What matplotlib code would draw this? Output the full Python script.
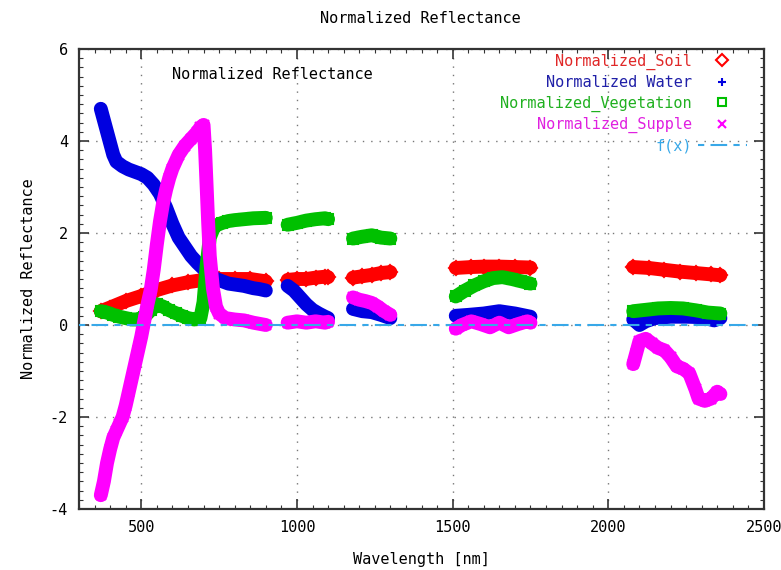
import numpy as np
import matplotlib
matplotlib.use("Agg")
import matplotlib.pyplot as plt
from matplotlib.lines import Line2D
from matplotlib.ticker import MultipleLocator

plt.rcParams['font.family'] = ['DejaVu Sans Mono', 'DejaVu Sans']
plt.rcParams['font.size'] = 11
plt.rcParams['axes.unicode_minus'] = False

nan = np.nan

# --- dane (nan = przerwa w pasmie) ---
soil_wl = [370, 400, 450, 500, 550, 600, 650, 700, 750, 800, 850, 900, nan,
           970, 1000, 1030, 1060, 1090, 1100, nan,
           1180, 1210, 1240, 1270, 1300, nan,
           1510, 1560, 1600, 1650, 1700, 1750, nan,
           2080, 2130, 2180, 2230, 2280, 2330, 2360]
soil_val = [0.30, 0.38, 0.52, 0.63, 0.76, 0.86, 0.93, 0.98, 1.00, 1.00, 1.00, 0.95, nan,
            0.98, 1.00, 1.00, 1.03, 1.05, 1.04, nan,
            1.03, 1.06, 1.09, 1.13, 1.15, nan,
            1.24, 1.26, 1.27, 1.27, 1.26, 1.25, nan,
            1.26, 1.24, 1.20, 1.16, 1.13, 1.10, 1.08]

water_wl = [370, 380, 390, 400, 410, 420, 440, 460, 480, 500, 520, 540, 560, 580, 600,
            620, 640, 660, 680, 700, 720, 740, 760, 780, 800, 830, 860, 880, 900, nan,
            970, 990, 1010, 1030, 1050, 1070, 1090, 1100, nan,
            1180, 1210, 1240, 1270, 1300, nan,
            1510, 1550, 1600, 1650, 1700, 1750, nan,
            2080, 2100, 2120, 2150, 2200, 2250, 2300, 2340, 2360]
water_val = [4.70, 4.45, 4.20, 3.95, 3.70, 3.55, 3.45, 3.38, 3.33, 3.28, 3.20, 3.05, 2.85, 2.55, 2.20,
             1.90, 1.70, 1.50, 1.35, 1.22, 1.10, 1.00, 0.95, 0.90, 0.88, 0.85, 0.80, 0.78, 0.75, nan,
             0.85, 0.75, 0.60, 0.45, 0.33, 0.25, 0.18, 0.15, nan,
             0.35, 0.30, 0.28, 0.22, 0.15, nan,
             0.20, 0.22, 0.25, 0.30, 0.25, 0.18, nan,
             0.12, 0.00, 0.08, 0.15, 0.18, 0.18, 0.17, 0.10, 0.15]

veg_wl = [370, 390, 410, 430, 450, 470, 490, 510, 530, 550, 570, 590, 610, 630, 650,
          670, 690, 700, 710, 720, 735, 760, 780, 800, 830, 860, 900, nan,
          970, 1000, 1030, 1060, 1090, 1100, nan,
          1180, 1210, 1240, 1270, 1300, nan,
          1510, 1540, 1570, 1600, 1630, 1660, 1690, 1720, 1750, nan,
          2080, 2120, 2160, 2200, 2240, 2280, 2320, 2360]
veg_val = [0.30, 0.27, 0.22, 0.18, 0.15, 0.12, 0.12, 0.18, 0.32, 0.45, 0.40, 0.32, 0.26, 0.20, 0.15,
           0.12, 0.15, 0.50, 1.30, 1.90, 2.15, 2.22, 2.26, 2.28, 2.30, 2.32, 2.33, nan,
           2.18, 2.22, 2.27, 2.30, 2.32, 2.30, nan,
           1.88, 1.92, 1.95, 1.90, 1.88, nan,
           0.62, 0.75, 0.86, 0.95, 1.02, 1.04, 1.00, 0.95, 0.90, nan,
           0.30, 0.33, 0.36, 0.37, 0.36, 0.32, 0.27, 0.25]

supple_wl = [370, 380, 390, 400, 410, 420, 430, 440, 450, 460, 470, 480, 490, 500, 510,
             520, 530, 540, 550, 560, 570, 580, 590, 600, 620, 640, 660, 680, 690, 700,
             705, 710, 715, 720, 730, 740, 750, 770, 800, 830, 860, 900, nan,
             970, 1000, 1030, 1060, 1090, 1100, nan,
             1180, 1200, 1220, 1240, 1260, 1280, 1300, nan,
             1510, 1530, 1560, 1590, 1620, 1650, 1680, 1710, 1740, 1750, nan,
             2080, 2090, 2100, 2120, 2140, 2160, 2180, 2200, 2220, 2240, 2260, 2280,
             2290, 2310, 2330, 2350, 2360]
supple_val = [-3.70, -3.40, -3.00, -2.70, -2.45, -2.30, -2.15, -2.00, -1.75, -1.45, -1.15, -0.85, -0.55, -0.25, 0.10,
              0.45, 0.75, 1.20, 1.75, 2.25, 2.65, 2.95, 3.20, 3.40, 3.70, 3.90, 4.05, 4.20, 4.30, 4.35,
              3.80, 3.00, 2.20, 1.50, 0.80, 0.40, 0.25, 0.15, 0.12, 0.10, 0.05, 0.00, nan,
              0.05, 0.08, 0.05, 0.08, 0.05, 0.07, nan,
              0.60, 0.55, 0.52, 0.48, 0.40, 0.30, 0.22, nan,
              -0.08, 0.00, 0.08, 0.02, -0.05, 0.05, -0.05, 0.02, 0.08, 0.05, nan,
              -0.85, -0.60, -0.35, -0.30, -0.40, -0.50, -0.55, -0.70, -0.90, -0.95, -1.05, -1.40,
              -1.60, -1.65, -1.60, -1.45, -1.50]

fx_level = 0.0

series = [
    ("Normalized_Soil", soil_wl, soil_val, "#ff0000", "D", "#e02828"),
    ("Normalized Water", water_wl, water_val, "#0000e0", "+", "#2020a8"),
    ("Normalized_Vegetation", veg_wl, veg_val, "#00c000", "s", "#20b020"),
    ("Normalized_Supple", supple_wl, supple_val, "#ff00ff", "x", "#e020e0"),
]
fx_color = "#38a8e8"

fig = plt.figure(figsize=(7.81, 5.70), dpi=100)
ax = fig.add_axes([79 / 781, 1 - 509 / 570, 685 / 781, 460 / 570])

handles = []
labels = []
label_colors = []
for i, (name, wl, val, col, mk, tcol) in enumerate(series):
    # gęste punkty gnuplota zlewają się w pasmo
    ax.plot(wl, val, color=col, lw=10, solid_capstyle="round",
            solid_joinstyle="round", zorder=2 + i)
    ax.plot(wl, val, ls="none", marker=mk, ms=7, mew=1.5, mfc="none",
            color=col, zorder=2 + i)
    handles.append(Line2D([], [], ls="none", marker=mk, color=col, mfc="none",
                          ms=6, mew=1.5))
    labels.append(name)
    label_colors.append(tcol)

ax.axhline(fx_level, color=fx_color, lw=1.5, ls=(0, (3, 3, 8, 3)), zorder=10)
handles.append(Line2D([], [], color=fx_color, lw=1.5, ls=(0, (3, 3, 8, 3))))
labels.append("f(x)")
label_colors.append(fx_color)

ax.set_xlim(300, 2500)
ax.set_ylim(-4, 6)
ax.set_xticks([500, 1000, 1500, 2000, 2500])
ax.set_yticks([-4, -2, 0, 2, 4, 6])
ax.xaxis.set_minor_locator(MultipleLocator(50))
ax.yaxis.set_minor_locator(MultipleLocator(0.2))
ax.tick_params(which="both", direction="in", top=True, right=True, color="#333333")
ax.tick_params(which="major", length=7, width=1.2, pad=8)
ax.tick_params(which="minor", length=3, width=0.8)
ax.grid(True, which="major", ls=(0, (1, 5)), color="#777777", lw=1.0)
for sp in ax.spines.values():
    sp.set_linewidth(1.6)
    sp.set_color("#333333")

ax.set_xlabel("Wavelength [nm]", labelpad=12)
ax.set_ylabel("Normalized Reflectance", labelpad=10)
fig.text(0.538, 0.968, "Normalized Reflectance", ha="center", va="center")
ax.text(600, 5.45, "Normalized Reflectance", ha="left", va="center")

leg = ax.legend(handles, labels, loc="upper right", bbox_to_anchor=(0.975, 0.99),
                frameon=False, markerfirst=False, handlelength=3.2,
                handletextpad=0.4, labelspacing=0.35, borderaxespad=0,
                borderpad=0, labelcolor=label_colors)
leg.set_zorder(20)

fig.savefig("out.png", dpi=100)
